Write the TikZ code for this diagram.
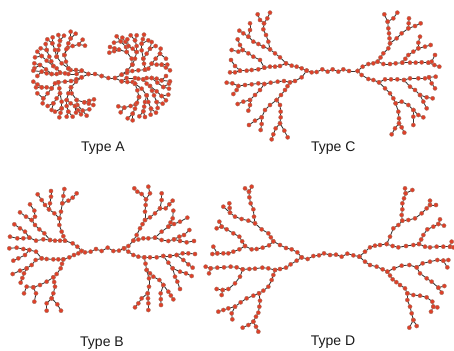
\documentclass[tikz,border=0pt]{standalone}
\usepackage{fontspec}
\setmainfont{Liberation Sans}
\definecolor{dotred}{HTML}{DE4029}
\definecolor{dotrim}{HTML}{A87868}
\definecolor{bondcol}{HTML}{333333}
\tikzset{
  bond/.style={draw=bondcol,line width=0.85pt},
  bead/.style={fill=dotred,draw=dotrim,line width=0.35pt},
  caption/.style={font=\fontsize{14}{16}\selectfont,text=black!90,inner sep=0pt}
}
\newcommand\brline[1]{\foreach \xa/\ya [count=\ii, remember=\xa as \xp (initially 0), remember=\ya as \yp (initially 0)] in {#1}{\ifnum\ii>1 \path[bond] (\xp,\yp)--(\xa,\ya);\fi}}
\newcommand\brdots[1]{\foreach \xa/\ya [count=\ii, remember=\xa as \xp (initially 0), remember=\ya as \yp (initially 0)] in {#1}{%
  \path[bead] (\xa,\ya) circle[radius=2.1pt];
  \ifnum\ii>1
    \pgfmathparse{veclen(\xa-\xp,\ya-\yp)>27?1:0}%
    \ifnum\pgfmathresult>0
      \path[bead] ({(\xa+\xp)/2},{(\ya+\yp)/2}) circle[radius=2.1pt];
    \fi
  \fi}}
\newcommand\both[1]{\begingroup\let\br\brline #1\let\br\brdots #1\endgroup}
% ---- Type A, one half (other half is the same turned by 180 degrees)
\newcommand\treeA{
\br{305/228,285/222,265/222,245/212,228/210,212/210,205/205}
\br{265/222,245/232,228/245,213/262}
\br{245/212,230/222,205/222,195/220,180/218}
\br{205/205,198/185,193/165}
\br{205/205,185/190,170/170}
\br{193/165,203/143,218/138,237/133,255/137}
\br{237/133,248/119}
\br{193/165,205/130,212/115,227/101}
\br{212/115,212/95}
\br{170/170,175/150,180/122,192/107}
\br{180/122,175/105}
\br{170/170,165/150,157/130,158/112}
\br{157/130,142/118}
\br{180/218,170/205,160/198,148/170,140/150,137/132}
\br{140/150,122/145}
\br{160/198,140/182,125/168,112/155}
\br{125/168,105/172}
\br{180/218,170/222,155/222,138/208,120/195,103/190}
\br{120/195,103/205}
\br{155/222,140/220,125/215,100/212}
\br{125/215,112/228}
\br{213/262,215/280,230/300,253/307,282/298}
\br{253/307,280/315}
\br{230/300,232/315,248/332,268/328}
\br{248/332,260/347}
\br{213/262,205/280,200/300,212/310,225/318,243/343}
\br{225/318,228/338}
\br{200/300,200/318,205/335,218/350}
\br{205/335,200/350}
\br{245/232,213/243,195/245,175/247}
\br{175/247,178/265,180/280,185/305,185/325,178/352}
\br{185/325,165/335}
\br{180/280,170/295,160/310,155/330}
\br{160/310,143/318}
\br{175/247,165/250,155/265,143/280,130/295,128/310}
\br{130/295,112/280}
\br{155/265,140/262,125/262,108/262}
\br{125/262,100/245}
}
% ---- Type C
\newcommand\treeC{
\br{305/212,320/217,335/216,352/208,368/215,383/208,400/215,415/208,432/213,458/213}
\br{305/212,290/205,275/200,260/197,243/190,225/172,210/160,195/148,190/125,183/105,175/88,177/70,165/60,158/43}
\br{177/70,187/55,195/38}
\br{195/148,175/140,160/132,145/125,130/110,135/90,135/70}
\br{130/110,115/100,103/92}
\br{243/190,225/198,210/200,195/200,178/203,160/208,140/210,125/212,105/212,90/198,78/180}
\br{105/212,90/217,75/217}
\br{178/203,165/180,145/170,130/160,113/150,100/155,80/150}
\br{113/150,105/135,98/118}
\br{305/212,290/232,270/243,255/247,237/243,218/245,197/248,178/252,160/250,140/253,120/255,100/258,82/250,65/248}
\br{100/258,95/270,85/282}
\br{178/252,165/270,150/285,135/300,115/305,98/312}
\br{135/300,135/315,130/332}
\br{255/247,240/270,228/285,215/300,195/315,180/330,170/352,150/362,132/375}
\br{170/352,170/372,167/390}
\br{215/300,225/315,227/335,227/352,225/370,212/385,205/403,200/418}
\br{225/370,238/392,248/412}
\br{458/213,473/200,490/192,505/190,518/185,535/160,550/145,555/130,552/100,550/85,548/65,538/43}
\br{548/65,565/55,577/38}
\br{555/130,575/115,590/100,610/85,612/55}
\br{610/85,630/78,647/70}
\br{518/185,535/192,555/192,572/190,592/188,610/165,625/155,640/145,640/128,645/110}
\br{640/145,660/140,677/135}
\br{592/188,615/188,632/188,650/187,670/188,680/185,690/165}
\br{670/188,688/195,703/200}
\br{458/213,470/225,490/237,505/240,522/247,540/238,558/238,577/238,597/240,615/235,640/235,660/235,672/232,692/230}
\br{672/232,680/250,690/265}
\br{597/240,615/260,630/270,645/285,665/292,683/295}
\br{645/285,655/305,665/325}
\br{522/247,540/265,555/280,565/295,572/310,590/305,610/315,625/330,640/345,655/352}
\br{625/330,625/350,625/375}
\br{572/310,580/335,582/355,582/370,570/385,560/403}
\br{582/370,590/382,598/398}
}
% ---- Type B
\newcommand\treeB{
\br{245/243,255/247,272/245,288/237,305/243,323/233,340/243,357/242,372/235}
\br{245/243,232/230,218/220,195/212,185/185,178/165,178/145,183/125,187/100,190/78,193/57}
\br{187/100,205/92,218/83,230/70}
\br{178/145,163/130,147/118,150/100,153/80,153/63}
\br{147/118,135/105,125/90,113/73}
\br{195/212,180/212,165/212,150/210,133/190,118/178,105/165,95/150,78/140,60/127}
\br{95/150,105/140,103/122,90/103}
\br{150/210,130/208,108/212,88/203,70/205,52/205,30/200}
\br{88/203,75/185,60/175,43/163}
\br{245/243,235/250,222/255,208/262,190/268,175/268,160/268,140/267,125/265,108/245,88/240,70/237,50/233,28/235}
\br{88/240,75/255,55/265,40/272}
\br{125/265,107/270,95/285,80/295,60/302,38/312}
\br{80/295,72/310,62/338}
\br{190/268,182/295,170/312,160/322,140/335,120/345,100/352,80/350,72/370}
\br{100/352,108/370,103/395}
\br{160/322,165/350,160/370,155/385,140/400,140/422}
\br{155/385,172/403,183/422}
\br{372/235,385/228,400/212,410/195,420/175,435/150,435/125,437/105,438/88,425/72,412/65,403/55}
\br{438/88,450/70,445/50}
\br{435/150,450/142,465/130,480/115,485/90,485/70}
\br{480/115,497/115,508/103,518/92}
\br{400/212,430/205,445/205,465/203,485/185,505/170,518/145,520/122}
\br{505/170,522/162,540/155,562/143}
\br{465/203,485/210,505/213,522/208,538/200,552/195,568/180}
\br{522/208,540/213,560/217,582/213}
\br{372/235,385/245,400/255,415/260,433/262,450/262,470/262,490/258,510/258,530/255,548/250,565/250,585/252}
\br{530/255,550/270,565/283,578/293}
\br{490/258,505/278,518/295,540/305,558/310,575/318}
\br{518/295,525/320,532/335,540/357}
\br{433/262,440/300,447/325,447/350,443/370,425/385,415/400,405/412}
\br{443/370,445/400,445/420}
\br{440/300,460/320,478/330,490/345,482/370,483/405}
\br{490/345,505/365,520/388}
}
% ---- Type D
\newcommand\treeD{
\br{305/262,323/267,340/258,357/256,372/250,390/255,408/254,425/260,442/251,460/256,478/260}
\br{305/262,292/247,275/238,258/234,240/225,220/214,205/190,185/178,165/160,162/140,160/118,152/100,148/82,147/65,135/55}
\br{147/65,155/50}
\br{165/160,145/152,125/147,105/140,90/128,70/110}
\br{90/128,88/100}
\br{220/214,207/226,188/233,170/237,155/238,135/228,118/200,100/190,80/178,65/170,50/175}
\br{65/170,58/155}
\br{135/228,118/238,100/245,85/250,70/250,52/250,37/252}
\br{52/250,40/230}
\br{305/262,290/272,272/283,258/293,240/297,225/300,205/295,187/293,165/296,148/297,128/298,110/292,92/290,72/292,52/293,32/295,17/290}
\br{32/295,27/310}
\br{128/298,120/320,105/340,85/357,68/360,50/357}
\br{68/360,65/375}
\br{225/300,215/330,205/350,190/362,177/370,160/377,140/385,122/397,105/410,85/415,55/425}
\br{105/410,95/430,97/448}
\br{177/370,180/392,178/410,175/428,168/440,160/455,145/465,128/473}
\br{160/455,168/470,175/485}
\br{478/260,495/245,510/232,525/227,540/225,560/222,570/200,580/175,595/165,607/152,605/135,607/118,607/100,612/85,617/70,615/55}
\br{617/70,637/60}
\br{607/152,625/150,645/145,665/130,680/115,690/105,690/92}
\br{690/105,708/105}
\br{560/222,578/228,595/232,618/228,640/225,657/222,670/195,682/178,700/170,715/162,720/148}
\br{715/162,732/167}
\br{657/222,675/230,690/232,710/230,730/230,750/230,755/215}
\br{750/230,760/232}
\br{478/260,495/275,510/285,530/290,548/298,562/305,582/295,605/287,628/285,650/292,668/280,690/275,712/270,730/272,745/270}
\br{730/272,742/292}
\br{650/292,660/310,680/325,695/335,715/353,733/348}
\br{715/353,725/368}
\br{562/305,578/328,600/345,615/355,622/370,640/375,660/377,680/382,697/395,700/410,712/412}
\br{700/410,693/425}
\br{622/370,622/390,630/410,635/430,640/450,628/473}
\br{640/450,650/468}
}
\begin{document}
\begin{tikzpicture}[x=0.33333pt,y=-0.33333pt]
\useasboundingbox (0,0) rectangle (1362,1050);
\begin{scope}
  \both{\treeA}
  \begin{scope}[rotate around={180:(305,228)}]
    \both{\treeA}
  \end{scope}
\end{scope}
\begin{scope}[xshift=205pt]
  \both{\treeC}
\end{scope}
\begin{scope}[yshift=-170pt]
  \both{\treeB}
\end{scope}
\begin{scope}[xshift=200pt,yshift=-170pt]
  \both{\treeD}
\end{scope}
\node[caption] (labA) at (309,444) {Type A};
\node[caption] (labC) at (1000,444) {Type C};
\node[caption] (labB) at (306,1028) {Type B};
\node[caption] (labD) at (999,1027) {Type D};
\end{tikzpicture}
\end{document}
